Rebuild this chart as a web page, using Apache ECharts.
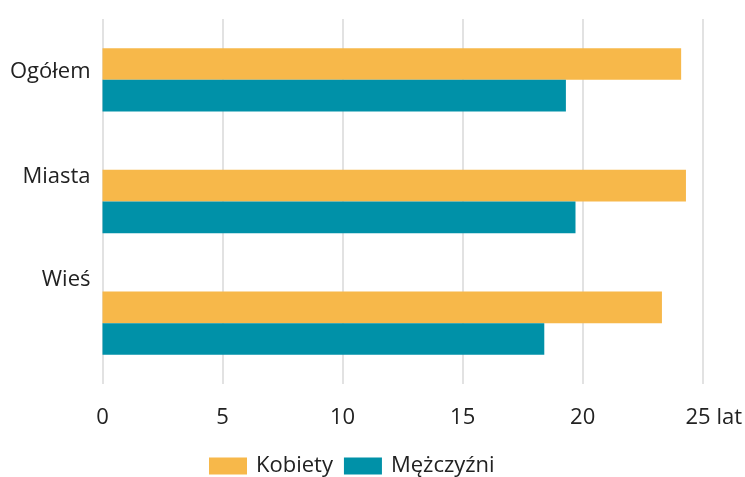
<!DOCTYPE html>
<html><head><meta charset="utf-8">
<script src="https://cdn.jsdelivr.net/npm/echarts@6/dist/echarts.min.js"></script>
<style>html,body{margin:0;padding:0;background:#fff}#c{width:745px;height:477px}</style>
</head><body><div id="c"></div>
<script>
const categories = ['Ogółem', 'Miasta', 'Wieś'];
const seriesNames = ['Kobiety', 'Mężczyźni'];
const kobiety = [24.1, 24.3, 23.3];
const mezczyzni = [19.3, 19.7, 18.4];
const xTicks = [0, 5, 10, 15, 20, 25];
const xUnit = 'lat';

const FONT = '"Open Sans", "Noto Sans", sans-serif';
const FS = 22;
const TXT = '#222';
const chart = echarts.init(document.getElementById('c'), null, {renderer: 'canvas'});
const catKeys = ['a', 'b', 'c'];
chart.setOption({
  animation: false,
  textStyle: {fontFamily: FONT},
  grid: {left: 102.5, right: 41.7, top: 19, bottom: 93, containLabel: false},
  legend: {
    top: 455, left: 209, padding: 0, itemWidth: 38, itemHeight: 17, itemGap: 11,
    icon: 'rect',
    textStyle: {fontSize: FS, color: TXT, fontFamily: FONT, padding: [0, 0, 0, 4]},
    data: seriesNames
  },
  xAxis: {
    type: 'value', min: xTicks[0], max: xTicks[xTicks.length - 1], interval: 5,
    axisLine: {show: false}, axisTick: {show: false},
    splitLine: {show: true, lineStyle: {color: '#d9d9d9', width: 1.5}},
    axisLabel: {
      margin: 23, color: TXT, fontSize: FS, fontFamily: FONT,
      formatter: v => v === xTicks[xTicks.length - 1] ? '{u|' + v + ' ' + xUnit + '}' : String(v),
      rich: {u: {fontSize: FS, color: TXT, fontFamily: FONT, padding: [0, 0, 0, 22]}}
    }
  },
  yAxis: {
    type: 'category', data: categories, inverse: true,
    axisLine: {show: false}, axisTick: {show: false},
    axisLabel: {
      margin: 12, color: TXT, fontSize: FS, fontFamily: FONT,
      formatter: (v, i) => '{' + catKeys[i] + '|' + v + '}',
      rich: {
        a: {fontSize: FS, color: TXT, fontFamily: FONT, padding: [0, 0, 16, 0]},
        b: {fontSize: FS, color: TXT, fontFamily: FONT, padding: [0, 0, 50, 0]},
        c: {fontSize: FS, color: TXT, fontFamily: FONT, padding: [0, 0, 86, 0]}
      }
    }
  },
  series: [
    {name: seriesNames[0], type: 'bar', data: kobiety, barGap: '0%', barCategoryGap: '48%',
     itemStyle: {color: '#F7B84A'}},
    {name: seriesNames[1], type: 'bar', data: mezczyzni, barGap: '0%', barCategoryGap: '48%',
     itemStyle: {color: '#0091A8'}}
  ]
});
</script></body></html>
